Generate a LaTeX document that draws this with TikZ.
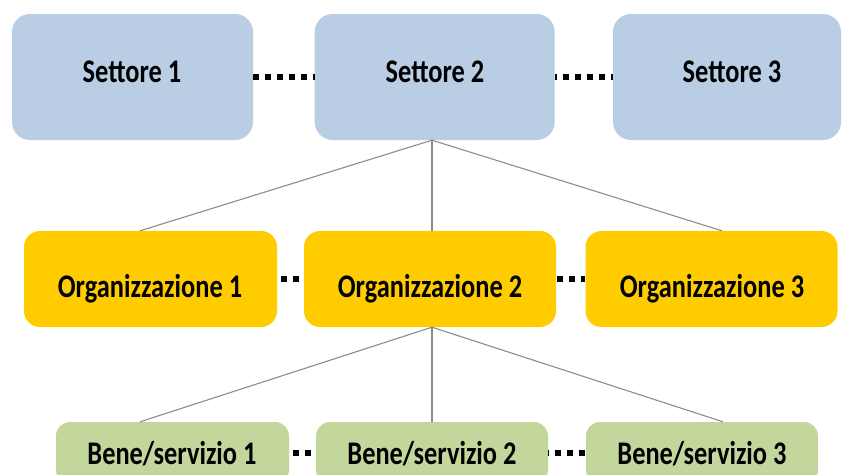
\documentclass[tikz,border=0pt]{standalone}
\usepackage{fontspec}
\setmainfont{Carlito}[FakeStretch=0.8]
\definecolor{sblue}{HTML}{B9CDE5}
\definecolor{oyel}{HTML}{FFCC00}
\definecolor{bgreen}{HTML}{C3D69B}
\definecolor{lgray}{HTML}{8C8C8C}
\begin{document}
\begin{tikzpicture}[x=1pt,y=-1pt,
  boxs/.style={rectangle,rounded corners=18pt,inner sep=0pt,minimum height=126pt},
  boxo/.style={rectangle,rounded corners=16pt,fill=oyel,inner sep=0pt,minimum height=96pt,minimum width=252pt},
  boxb/.style={rectangle,rounded corners=14pt,fill=bgreen,inner sep=0pt,minimum height=62pt,minimum width=232pt},
  lab/.style={anchor=base,inner sep=0pt,font=\fontsize{33}{37}\selectfont\bfseries},
  dots/.style={line width=6pt,dash pattern=on 6pt off 6pt},
  conn/.style={draw=lgray,line width=1.1pt}]
\useasboundingbox (0,0) rectangle (843,474);
\clip (0,0) rectangle (843,474);
% top row
\node[boxs,fill=sblue,minimum width=241pt] (s1) at (132.5,77) {};
\node[boxs,fill=sblue,minimum width=240pt] (s2) at (434.7,77) {};
\node[boxs,fill=sblue,minimum width=228pt] (s3) at (727,77) {};
\node[lab] (t1) at (132,82) {Settore 1};
\node[lab] (t2) at (435,82) {Settore 2};
\node[lab] (t3) at (732,82) {Settore 3};
% middle row
\node[boxo,minimum width=253pt] (o1) at (150.5,279) {};
\node[boxo] (o2) at (430,279) {};
\node[boxo] (o3) at (711.5,279) {};
\node[lab] (u1) at (150,297) {Organizzazione 1};
\node[lab] (u2) at (430,297) {Organizzazione 2};
\node[lab] (u3) at (712,297) {Organizzazione 3};
% bottom row
\node[boxb,minimum width=233pt] (b1) at (172.5,453) {};
\node[boxb] (b2) at (432,453) {};
\node[boxb] (b3) at (702,453) {};
\node[lab] (v1) at (172,464) {Bene/servizio 1};
\node[lab] (v2) at (432,464) {Bene/servizio 2};
\node[lab] (v3) at (702,464) {Bene/servizio 3};
% connectors
\draw[conn] ([xshift=-2.7pt]s2.south) -- ([xshift=-10.5pt]o1.north);
\draw[conn] ([xshift=-2.7pt]s2.south) -- ([xshift=2pt]o2.north);
\draw[conn] ([xshift=-2.7pt]s2.south) -- ([xshift=10.5pt]o3.north);
\draw[conn] ([xshift=2pt]o2.south) -- ([xshift=-32.5pt]b1.north);
\draw[conn] ([xshift=2pt]o2.south) -- (b2.north);
\draw[conn] ([xshift=2pt]o2.south) -- ([xshift=21pt]b3.north);
% dotted links
\draw[dots] (s1.east) -- (s2.west);
\draw[dots,dash phase=4pt] (s2.east) -- (s3.west);
\draw[dots,dash phase=8pt] (o1.east) -- (o2.west);
\draw[dots,dash phase=11pt] (o2.east) -- (o3.west);
\draw[dots,dash phase=8pt] (b1.east) -- (b2.west);
\draw[dots,dash phase=5pt] (b2.east) -- (b3.west);
\end{tikzpicture}
\end{document}
